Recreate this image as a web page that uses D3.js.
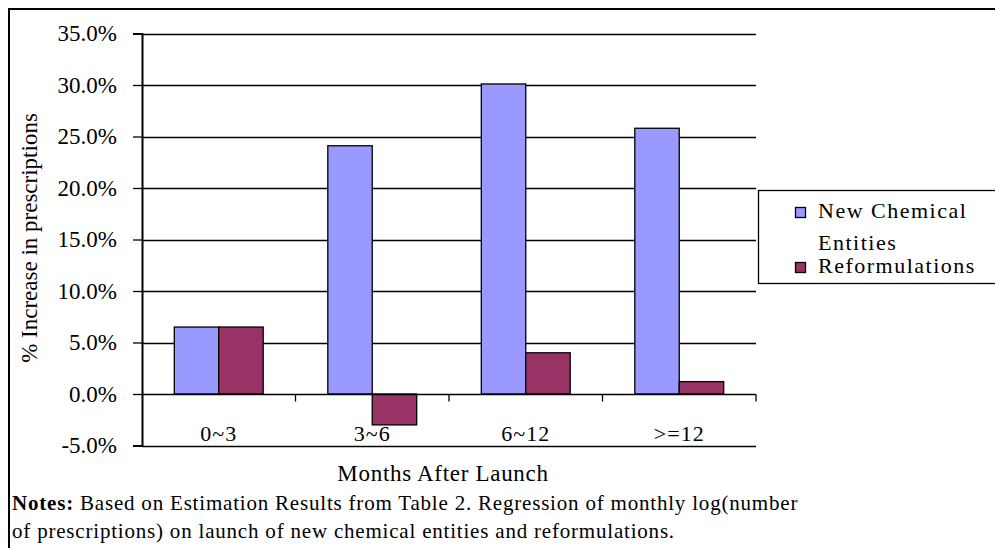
<!DOCTYPE html>
<html lang="en">
<head>
    <meta charset="UTF-8">
    <title>Months After Launch</title>
    <script src="https://d3js.org/d3.v7.min.js"></script>
    <style>
        body{ margin:0; background:#fff; }
        svg text{ font-family:"Liberation Serif",Tinos,"Times New Roman",serif !important; fill:#000; }
    </style>
</head>
<body>
    <div class="chart"></div>
    <script>
        // data
        const categories = ['0~3', '3~6', '6~12', '>=12']
        const seriesNames = ['New Chemical Entities', 'Reformulations']
        const nceValues = [6.5, 24.1, 30.1, 25.8]
        const reformValues = [6.5, -3.0, 4.0, 1.2]
        const yTicks = [-5, 0, 5, 10, 15, 20, 25, 30, 35]
        const colors = ['#9999ff', '#993366']

        const width = 995, height = 548
        const svg = d3.select('.chart').append('svg')
            .attr('width', width).attr('height', height)

        // outer frame (top + left only, like the cropped figure)
        svg.append('path')
            .attr('d', `M9,${height} V9 H${width}`)
            .attr('fill', 'none').attr('stroke', '#000').attr('stroke-width', 2)

        const left = 142, right = 756
        const yScale = d3.scaleLinear().domain([-5, 35]).range([445.5, 33.5])
        const xScale = d3.scaleBand().domain(categories).range([left, right])
        const inner = d3.scaleBand().domain([0, 1]).range([0, xScale.bandwidth()]).paddingOuter(0.727)

        // gridlines
        svg.append('g').selectAll('line').data(yTicks.filter(d => d !== 0))
            .join('line')
            .attr('x1', left).attr('x2', right)
            .attr('y1', d => Math.round(yScale(d)) + 0.5).attr('y2', d => Math.round(yScale(d)) + 0.5)
            .attr('stroke', '#000').attr('stroke-width', 1.3)

        // y axis
        const yAxis = d3.axisLeft(yScale).tickValues(yTicks).tickSize(9).tickPadding(16)
            .tickFormat(d => d.toFixed(1) + '%')
        const yg = svg.append('g').attr('transform', `translate(${left},0)`).call(yAxis)
        yg.attr('font-family', null)
        yg.select('.domain').attr('stroke-width', 2)
        yg.selectAll('.tick line').attr('stroke-width', 1.3)
        yg.selectAll('text').style('font-size', '23px')

        // bars
        const rows = categories.map((c, i) => [nceValues[i], reformValues[i]])
        const groups = svg.append('g').selectAll('g').data(rows).join('g')
            .attr('transform', (d, i) => `translate(${xScale(categories[i])},0)`)
        groups.selectAll('rect').data(d => d.map((v, k) => ({ v, k })))
            .join('rect')
            .attr('x', d => inner(d.k))
            .attr('width', inner.bandwidth())
            .attr('y', d => yScale(Math.max(0, d.v)))
            .attr('height', d => Math.abs(yScale(d.v) - yScale(0)))
            .attr('fill', d => colors[d.k])
            .attr('stroke', '#000').attr('stroke-width', 1.3)

        // x axis on the zero line, ticks at category boundaries
        const y0 = Math.round(yScale(0)) + 0.5
        svg.append('line').attr('x1', left).attr('x2', right).attr('y1', y0).attr('y2', y0)
            .attr('stroke', '#000').attr('stroke-width', 1.3)
        const bounds = categories.map(c => xScale(c)).concat([right]).slice(1)
        svg.append('g').selectAll('line').data(bounds).join('line')
            .attr('x1', d => d).attr('x2', d => d).attr('y1', y0).attr('y2', y0 + 7)
            .attr('stroke', '#000').attr('stroke-width', 1.3)

        svg.append('g').selectAll('text').data(categories).join('text')
            .attr('x', d => xScale(d) + xScale.bandwidth() / 2)
            .attr('y', 441)
            .attr('text-anchor', 'middle').style('font-size', '22px').style('letter-spacing', '1px')
            .text(d => d)

        // axis titles
        svg.append('text')
            .attr('transform', 'translate(37,238) rotate(-90)')
            .attr('text-anchor', 'middle').style('font-size', '23px')
            .text('% Increase in prescriptions')
        svg.append('text')
            .attr('x', 443).attr('y', 481)
            .attr('text-anchor', 'middle').style('font-size', '23px').style('letter-spacing', '0.7px')
            .text('Months After Launch')

        // legend
        const lg = svg.append('g')
        lg.append('rect').attr('x', 758.5).attr('y', 190.5).attr('width', 240).attr('height', 93)
            .attr('fill', '#fff').attr('stroke', '#000').attr('stroke-width', 1.3)
        const legendRows = [
            { lines: ['New Chemical', 'Entities'], y: 218, gap: 32 },
            { lines: ['Reformulations'], y: 273, gap: 0 }
        ]
        legendRows.forEach((r, k) => {
            lg.append('rect').attr('x', 795.5).attr('y', r.y - 10.5).attr('width', 10).attr('height', 10)
                .attr('fill', colors[k]).attr('stroke', '#000').attr('stroke-width', 1.3)
            r.lines.forEach((t, j) => {
                lg.append('text').attr('x', 818).attr('y', r.y + j * r.gap)
                    .style('font-size', '22px').style('letter-spacing', '1.5px').text(t)
            })
        })
        lg.append('title').text(seriesNames.join(', '))

        // notes
        const n1 = svg.append('text').attr('x', 12).attr('y', 510)
            .style('font-size', '21px').style('letter-spacing', '0.8px')
        n1.append('tspan').style('font-weight', 'bold').text('Notes:')
        n1.append('tspan').text(' Based on Estimation Results from Table 2. Regression of monthly log(number')
        svg.append('text').attr('x', 12).attr('y', 538)
            .style('font-size', '21px').style('letter-spacing', '0.8px')
            .text('of prescriptions) on launch of new chemical entities and reformulations.')
    </script>
</body>
</html>
